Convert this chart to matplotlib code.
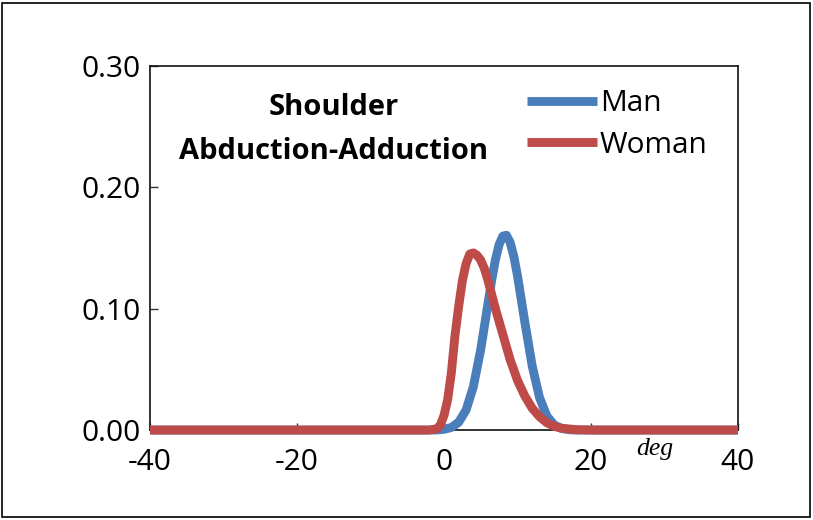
import matplotlib
matplotlib.use("Agg")
import matplotlib.pyplot as plt
from matplotlib.patches import Rectangle

# Data
man_x = [-40, -2, -1, 0, 1, 2, 3, 4, 5, 6, 6.5, 7, 7.5, 8, 8.5, 9, 9.5, 10, 11, 12, 13, 14, 15, 16, 17, 18, 40]
man_y = [0, 0, 0.0001, 0.0006, 0.0021, 0.0064, 0.0164, 0.0358, 0.0664, 0.1047, 0.1237, 0.1404, 0.1528, 0.1598,
         0.1605, 0.1547, 0.1432, 0.1273, 0.0890, 0.0529, 0.0267, 0.0115, 0.0042, 0.0013, 0.0003, 0, 0]

woman_x = [-40, -2, -1, -0.5, 0, 0.5, 1, 1.5, 2, 2.5, 3, 3.5, 4, 4.5, 5, 5.5, 6, 7, 8, 9, 10, 11, 12, 13, 14, 15, 16, 18, 20, 40]
woman_y = [0, 0, 0.001, 0.004, 0.012, 0.025, 0.047, 0.078, 0.102, 0.123, 0.137, 0.145, 0.146, 0.144, 0.140, 0.133,
           0.123, 0.100, 0.079, 0.058, 0.041, 0.028, 0.018, 0.011, 0.006, 0.003, 0.0015, 0.0003, 0, 0]

x_ticks = [-40, -20, 0, 20, 40]
y_ticks = [0.0, 0.1, 0.2, 0.3]
y_ticklabels = ["0.00", "0.10", "0.20", "0.30"]

plt.rcParams['font.family'] = ['Open Sans', 'DejaVu Sans']

fig = plt.figure(figsize=(8.13, 5.2), dpi=100)
fig.patches.append(Rectangle((0.003, 0.005), 0.993, 0.99, transform=fig.transFigure,
                             fill=False, edgecolor='black', linewidth=1.2))

ax = fig.add_axes([0.1845, 0.173, 0.7232, 0.700])

blue = '#4A7EBB'
red = '#BE4B48'
ax.plot(man_x, man_y, color=blue, linewidth=6.4, solid_capstyle='butt', solid_joinstyle='round',
        clip_on=False, label='Man', zorder=3)
ax.plot(woman_x, woman_y, color=red, linewidth=6.4, solid_capstyle='butt', solid_joinstyle='round',
        clip_on=False, label='Woman', zorder=4)

ax.set_xlim(-40, 40)
ax.set_ylim(0, 0.30)
ax.set_xticks(x_ticks)
ax.set_xticklabels([str(v) for v in x_ticks])
ax.set_yticks(y_ticks)
ax.set_yticklabels(y_ticklabels)

for s in ax.spines.values():
    s.set_linewidth(1.2)
    s.set_color('#111111')

ax.tick_params(axis='both', direction='in', labelsize=21.5, width=1.0, colors='#333333', labelcolor='black')
ax.tick_params(axis='x', length=5, pad=13)
ax.tick_params(axis='y', length=6, pad=7)

ax.text(0.313, 0.885, "Shoulder", transform=ax.transAxes, ha='center', va='center',
        fontsize=21, fontweight='bold')
ax.text(0.313, 0.765, "Abduction-Adduction", transform=ax.transAxes, ha='center', va='center',
        fontsize=21, fontweight='bold')

leg = ax.legend(loc='upper left', bbox_to_anchor=(0.641, 0.936), frameon=False, fontsize=21.5,
                handlelength=2.35, handletextpad=0.1, labelspacing=0.42, borderaxespad=0, borderpad=0)

ax.text(0.859, -0.052, "deg", transform=ax.transAxes, ha='center', va='center',
        fontsize=18.5, style='italic', family=['Liberation Serif', 'DejaVu Serif'])

fig.savefig("out.png", dpi=100)
